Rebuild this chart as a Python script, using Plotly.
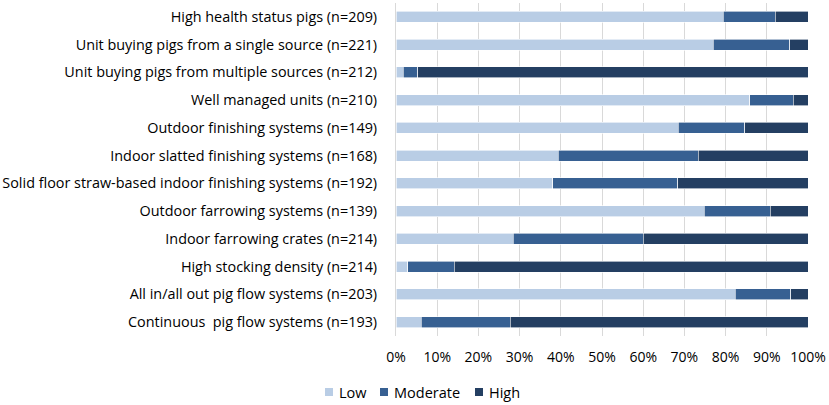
import plotly.graph_objects as go

# categories, listed top to bottom as in the chart
categories = [
    "High health status pigs (n=209)",
    "Unit buying pigs from a single source (n=221)",
    "Unit buying pigs from multiple sources (n=212)",
    "Well managed units (n=210)",
    "Outdoor finishing systems (n=149)",
    "Indoor slatted finishing systems (n=168)",
    "Solid floor straw-based indoor finishing systems (n=192)",
    "Outdoor farrowing systems (n=139)",
    "Indoor farrowing crates (n=214)",
    "High stocking density (n=214)",
    "All in/all out pig flow systems (n=203)",
    "Continuous\u00a0 pig flow systems (n=193)",
]

# share of respondents (%) per risk level
low = [79.4, 77.0, 1.8, 85.8, 68.5, 39.4, 38.0, 74.8, 28.5, 2.8, 82.4, 6.1]
moderate = [12.6, 18.6, 3.5, 10.6, 16.2, 34.0, 30.4, 16.0, 31.5, 11.3, 13.4, 21.6]
high = [8.0, 4.4, 94.7, 3.6, 15.3, 26.6, 31.6, 9.2, 40.0, 85.9, 4.2, 72.3]

series_names = ["Low", "Moderate", "High"]
series_vals = [low, moderate, high]
colors = ["#b9cde5", "#376092", "#243f62"]

font_main = "Open Sans, DejaVu Sans, sans-serif"

# plot area in pixels (used to place the hand drawn legend)
W, H = 829, 405
L, R, T, B = 396, 21, 3, 69
pw, ph = W - L - R, H - T - B

fig = go.Figure()
for name, vals, col in zip(series_names, series_vals, colors):
    fig.add_trace(go.Bar(
        y=categories,
        x=[v / 100 for v in vals],
        name=name,
        orientation="h",
        marker=dict(color=col, line=dict(color="white", width=0.6)),
        showlegend=False,
    ))

# legend: small square + label, laid out like the Excel legend
legend_px = [325, 380, 475]   # left edge of each square
legend_py = 392               # vertical centre
sq = 8
ly = (H - B - legend_py) / ph
hs = (sq / 2) / ph
for px, name, col in zip(legend_px, series_names, colors):
    fig.add_shape(type="rect", xref="paper", yref="paper",
                  x0=(px - L) / pw, x1=(px + sq - L) / pw,
                  y0=ly - hs, y1=ly + hs,
                  fillcolor=col, line=dict(width=0))
    fig.add_annotation(xref="paper", yref="paper",
                       x=(px + sq + 4 - L) / pw, y=ly,
                       xanchor="left", yanchor="middle",
                       text=name, showarrow=False,
                       font=dict(size=14.5, color="#000000"))

fig.update_layout(
    barmode="stack",
    bargap=0.6,
    width=W,
    height=H,
    margin=dict(l=L, r=R, t=T, b=B),
    paper_bgcolor="white",
    plot_bgcolor="white",
    font=dict(family=font_main, size=14, color="#000000"),
    showlegend=False,
    xaxis=dict(
        range=[0, 1],
        dtick=0.1,
        tickformat=".0%",
        showgrid=True,
        gridcolor="#d9d9d9",
        gridwidth=1,
        zeroline=False,
        showline=False,
        ticks="",
        ticklabelstandoff=11,
        ticklabeloverflow="allow",
        tickfont=dict(size=14),
        fixedrange=True,
    ),
    yaxis=dict(
        categoryorder="array",
        categoryarray=categories[::-1],
        showgrid=False,
        showline=True,
        linecolor="#d9d9d9",
        linewidth=1,
        ticks="",
        ticklabelstandoff=15,
        tickfont=dict(size=14.4),
        fixedrange=True,
    ),
)

# page body has a default 8px margin; drop it so the figure fills the window
fig.write_html("out.html",
               config={"displayModeBar": False},
               post_script="document.body.style.margin='0';document.body.style.overflow='hidden';")
